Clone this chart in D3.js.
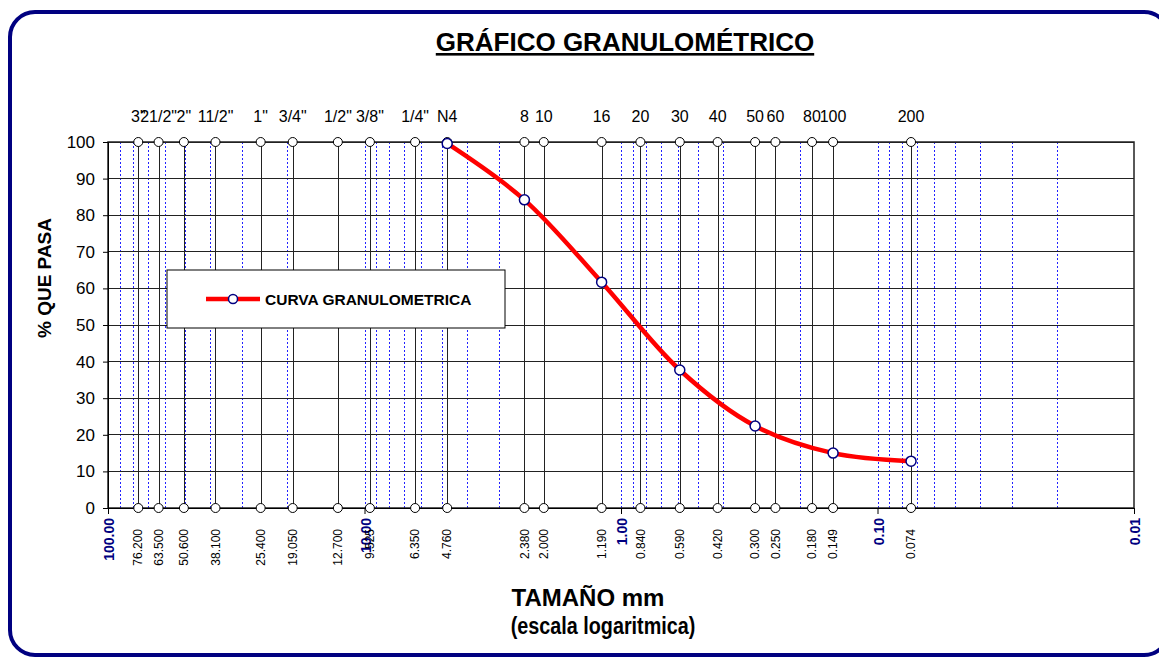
<!DOCTYPE html>
<meta charset="utf-8">
<style>
    body { margin: 0; background-color: #fff; }
    text { font-family: Arial, "Liberation Sans", sans-serif; }
    .grid-h line { stroke: #222; stroke-width: 1px; shape-rendering: crispEdges; }
    .minor { stroke: #2222ff; stroke-width: 1px; stroke-dasharray: 2,2; shape-rendering: crispEdges; }
    .sieve { stroke: #222; stroke-width: 1px; shape-rendering: crispEdges; }
    .sieve-dot { fill: #fff; stroke: #000; stroke-width: 1px; }
    .curve { fill: none; stroke: #ff0000; stroke-width: 4.5px; }
    .point { fill: #fff; stroke: #000080; stroke-width: 1.5px; }
</style>
<body>
<svg width="1159" height="657"></svg>
<script src="https://d3js.org/d3.v7.min.js"></script>
<script>
    // sieve series (ASTM)
    var sieveLabels = ['3"', '21/2"', '2"', '11/2"', '1"', '3/4"', '1/2"', '3/8"', '1/4"', 'N4',
        '8', '10', '16', '20', '30', '40', '50', '60', '80', '100', '200'];
    var sieveSizes = [76.2, 63.5, 50.6, 38.1, 25.4, 19.05, 12.7, 9.525, 6.35, 4.76,
        2.38, 2.0, 1.19, 0.84, 0.59, 0.42, 0.30, 0.25, 0.18, 0.149, 0.074];

    // grading curve
    var curveSizes = [4.76, 2.38, 1.19, 0.59, 0.30, 0.149, 0.074];
    var curvePassing = [99.6, 84.2, 61.7, 37.7, 22.4, 15.0, 12.8];

    var xTicks = [100, 10, 1, 0.1, 0.01];
    var yTicks = [0, 10, 20, 30, 40, 50, 60, 70, 80, 90, 100];

    var svg = d3.select("svg"),
        margin = {top: 142, right: 25, bottom: 149, left: 108},
        width = +svg.attr("width") - margin.left - margin.right,
        height = +svg.attr("height") - margin.top - margin.bottom;

    // outer frame
    svg.append("rect")
        .attr("x", 10).attr("y", 12)
        .attr("width", 1159).attr("height", 643)
        .attr("rx", 25).attr("ry", 25)
        .attr("fill", "#fff")
        .attr("stroke", "#000080")
        .attr("stroke-width", 4);

    var x = d3.scaleLog().domain([100, 0.01]).range([0, width]);
    var y = d3.scaleLinear().domain([0, 100]).range([height, 0]);

    var g = svg.append("g")
        .attr("transform", "translate(" + margin.left + "," + margin.top + ")");

    // blue minor log gridlines
    var minor = [];
    [-2, -1, 0, 1].forEach(function(e) {
        for (var k = 1; k <= 9; k++) {
            var v = k * Math.pow(10, e);
            if (v > 0.01 && v < 100) minor.push(v);
        }
    });
    g.selectAll(".minor")
        .data(minor)
        .enter().append("line")
        .attr("class", "minor")
        .attr("x1", function(d) { return Math.round(x(d)) + 0.5; })
        .attr("x2", function(d) { return Math.round(x(d)) + 0.5; })
        .attr("y1", 0)
        .attr("y2", height);

    // horizontal gridlines
    g.append("g")
        .attr("class", "grid-h")
        .selectAll("line")
        .data(yTicks)
        .enter().append("line")
        .attr("x1", 0)
        .attr("x2", width)
        .attr("y1", function(d) { return y(d); })
        .attr("y2", function(d) { return y(d); });

    // sieve verticals
    g.selectAll(".sieve")
        .data(sieveSizes)
        .enter().append("line")
        .attr("class", "sieve")
        .attr("x1", function(d) { return Math.round(x(d)) + 0.5; })
        .attr("x2", function(d) { return Math.round(x(d)) + 0.5; })
        .attr("y1", 0)
        .attr("y2", height);

    // plot border
    g.append("rect")
        .attr("width", width)
        .attr("height", height)
        .attr("fill", "none")
        .attr("stroke", "#222")
        .attr("stroke-width", 1.5);

    // y axis
    var yAxis = g.append("g")
        .call(d3.axisLeft(y).tickValues(yTicks).tickSize(5).tickPadding(8));
    yAxis.select(".domain").attr("stroke", "#000");
    yAxis.selectAll("text").style("font-size", "17px").attr("fill", "#000");

    // x axis (decades)
    var xAxis = g.append("g")
        .attr("transform", "translate(0," + height + ")")
        .call(d3.axisBottom(x).tickValues(xTicks).tickSize(6).tickFormat(d3.format(".2f")));
    xAxis.select(".domain").attr("stroke", "#000");
    xAxis.selectAll("text")
        .attr("transform", "rotate(-90)")
        .attr("x", -10)
        .attr("y", 1)
        .attr("dy", "0.35em")
        .style("text-anchor", "end")
        .style("font-size", "14px")
        .style("font-weight", "bold")
        .attr("fill", "#000080");

    // sieve top labels
    g.selectAll(".sieve-label")
        .data(sieveSizes)
        .enter().append("text")
        .attr("class", "sieve-label")
        .attr("x", function(d) { return x(d); })
        .attr("y", -20)
        .attr("text-anchor", "middle")
        .style("font-size", "16px")
        .text(function(d, i) { return sieveLabels[i]; });

    // sieve size labels (bottom, rotated)
    g.selectAll(".size-label")
        .data(sieveSizes)
        .enter().append("text")
        .attr("class", "size-label")
        .attr("transform", function(d) { return "translate(" + x(d) + "," + (height + 21) + ") rotate(-90)"; })
        .attr("dy", "0.35em")
        .attr("text-anchor", "end")
        .style("font-size", "12px")
        .text(function(d) { return d3.format(".3f")(d); });

    // sieve dots top and bottom
    [0, height].forEach(function(yy) {
        g.selectAll(null)
            .data(sieveSizes)
            .enter().append("circle")
            .attr("class", "sieve-dot")
            .attr("cx", function(d) { return x(d); })
            .attr("cy", yy)
            .attr("r", 4.5);
    });

    // grading curve
    var pts = curveSizes.map(function(s, i) { return {size: s, pass: curvePassing[i]}; });
    var line = d3.line()
        .x(function(d) { return x(d.size); })
        .y(function(d) { return y(d.pass); })
        .curve(d3.curveCatmullRom.alpha(0.5));

    g.append("path")
        .datum(pts)
        .attr("class", "curve")
        .attr("d", line);

    g.selectAll(".point")
        .data(pts)
        .enter().append("circle")
        .attr("class", "point")
        .attr("cx", function(d) { return x(d.size); })
        .attr("cy", function(d) { return y(d.pass); })
        .attr("r", 5);

    // legend
    var legend = svg.append("g").attr("transform", "translate(167,270)");
    legend.append("rect")
        .attr("width", 338).attr("height", 58)
        .attr("fill", "#fff").attr("stroke", "#000").attr("stroke-width", 1);
    legend.append("line")
        .attr("x1", 39).attr("x2", 93).attr("y1", 29).attr("y2", 29)
        .attr("stroke", "#ff0000").attr("stroke-width", 4.5);
    legend.append("circle")
        .attr("class", "point")
        .attr("cx", 66).attr("cy", 29).attr("r", 4.5);
    legend.append("text")
        .attr("x", 98).attr("y", 35)
        .style("font-size", "15.5px").style("font-weight", "bold")
        .text("CURVA GRANULOMETRICA");

    // title
    svg.append("text")
        .attr("x", 625).attr("y", 51)
        .attr("text-anchor", "middle")
        .style("font-size", "26px").style("font-weight", "bold")
        .style("text-decoration", "underline")
        .text("GRÁFICO GRANULOMÉTRICO");

    // axis titles
    svg.append("text")
        .attr("transform", "translate(44,278) rotate(-90)")
        .attr("dy", "0.35em")
        .attr("text-anchor", "middle")
        .style("font-size", "19px").style("font-weight", "bold")
        .text("% QUE PASA");

    svg.append("text")
        .attr("x", 588).attr("y", 606)
        .attr("text-anchor", "middle")
        .style("font-size", "24px").style("font-weight", "bold")
        .text("TAMAÑO mm");

    svg.append("text")
        .attr("transform", "translate(603,634) scale(0.86,1)")
        .attr("text-anchor", "middle")
        .style("font-size", "23px").style("font-weight", "bold")
        .text("(escala logaritmica)");
</script>
</body>
